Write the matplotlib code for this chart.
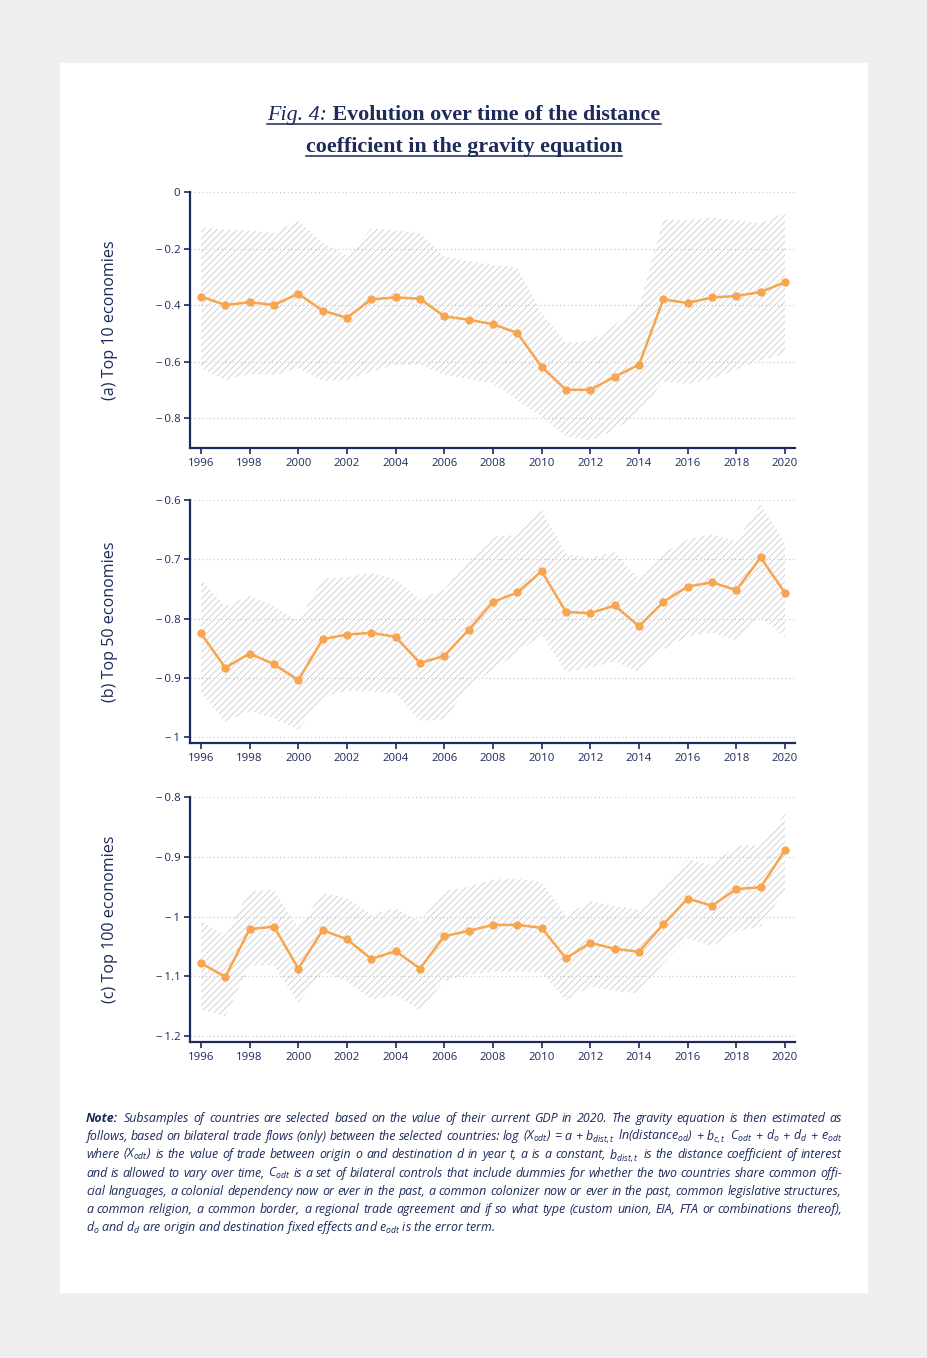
import matplotlib
matplotlib.use("Agg")
import matplotlib.pyplot as plt
from matplotlib import font_manager
from matplotlib.patches import Rectangle
from matplotlib.lines import Line2D

# %%
years = list(range(1996, 2021))

# (a) top 10 economies
coef_a = [-0.37, -0.40, -0.39, -0.40, -0.36, -0.42, -0.445, -0.38, -0.373, -0.378,
          -0.44, -0.452, -0.468, -0.499, -0.619, -0.70, -0.70, -0.654, -0.611,
          -0.38, -0.393, -0.373, -0.368, -0.354, -0.319]
upper_a = [-0.125, -0.134, -0.136, -0.144, -0.101, -0.18, -0.226, -0.129, -0.136, -0.145,
           -0.228, -0.245, -0.258, -0.267, -0.43, -0.533, -0.526, -0.47, -0.406,
           -0.097, -0.10, -0.09, -0.10, -0.111, -0.071]
lower_a = [-0.624, -0.665, -0.645, -0.647, -0.624, -0.669, -0.665, -0.636, -0.612, -0.612,
           -0.647, -0.663, -0.677, -0.736, -0.795, -0.866, -0.88, -0.842, -0.783,
           -0.671, -0.68, -0.66, -0.63, -0.595, -0.573]

# (b) top 50 economies
coef_b = [-0.825, -0.883, -0.859, -0.877, -0.904, -0.835, -0.827, -0.824, -0.831, -0.875,
          -0.863, -0.819, -0.772, -0.756, -0.72, -0.789, -0.791, -0.778, -0.813,
          -0.772, -0.746, -0.739, -0.752, -0.697, -0.757]
upper_b = [-0.734, -0.779, -0.762, -0.779, -0.805, -0.733, -0.73, -0.723, -0.734, -0.768,
           -0.751, -0.70, -0.662, -0.659, -0.617, -0.69, -0.698, -0.687, -0.734,
           -0.69, -0.666, -0.658, -0.67, -0.607, -0.673]
lower_b = [-0.925, -0.975, -0.956, -0.969, -0.987, -0.933, -0.922, -0.923, -0.926, -0.973,
           -0.97, -0.915, -0.886, -0.858, -0.827, -0.89, -0.883, -0.872, -0.891,
           -0.852, -0.83, -0.823, -0.838, -0.799, -0.83]

# (c) top 100 economies
coef_c = [-1.078, -1.101, -1.021, -1.017, -1.087, -1.023, -1.038, -1.071, -1.058, -1.087,
          -1.033, -1.024, -1.014, -1.014, -1.019, -1.07, -1.044, -1.054, -1.059,
          -1.013, -0.97, -0.982, -0.954, -0.951, -0.889]
upper_c = [-1.008, -1.031, -0.958, -0.955, -1.019, -0.961, -0.969, -0.997, -0.986, -1.008,
           -0.958, -0.95, -0.938, -0.937, -0.942, -0.999, -0.974, -0.982, -0.989,
           -0.947, -0.904, -0.914, -0.881, -0.881, -0.828]
lower_c = [-1.156, -1.167, -1.082, -1.082, -1.144, -1.092, -1.108, -1.139, -1.131, -1.157,
           -1.108, -1.097, -1.092, -1.092, -1.094, -1.14, -1.117, -1.125, -1.129,
           -1.078, -1.036, -1.05, -1.025, -1.017, -0.956]

panel_labels = ["(a) Top 10 economies", "(b) Top 50 economies", "(c) Top 100 economies"]
yticks_a = [0, -0.2, -0.4, -0.6, -0.8]
yticks_b = [-0.6, -0.7, -0.8, -0.9, -1]
yticks_c = [-0.8, -0.9, -1, -1.1, -1.2]
xticks = list(range(1996, 2021, 2))

note_lines = [
    "Subsamples of countries are selected based on the value of their current GDP in 2020. The gravity equation is then estimated as",
    "follows, based on bilateral trade flows (only) between the selected countries: log (X$_{odt}$) = a + b$_{dist,t}$ ln(distance$_{od}$) + b$_{c,t}$ C$_{odt}$ + d$_{o}$ + d$_{d}$ + e$_{odt}$",
    "where (X$_{odt}$) is the value of trade between origin o and destination d in year t, a is a constant, b$_{dist,t}$ is the distance coefficient of interest",
    "and is allowed to vary over time, C$_{odt}$ is a set of bilateral controls that include dummies for whether the two countries share common offi-",
    "cial languages, a colonial dependency now or ever in the past, a common colonizer now or ever in the past, common legislative structures,",
    "a common religion, a common border, a regional trade agreement and if so what type (custom union, EIA, FTA or combinations thereof),",
    "d$_{o}$ and d$_{d}$ are origin and destination fixed effects and e$_{odt}$ is the error term.",
]

# %%
navy = "#1c2a5c"
orange = "#f8a54f"
hatch_grey = "#d2d2d2"

names = {f.name for f in font_manager.fontManager.ttflist}
note_font = "Liberation Sans Narrow" if "Liberation Sans Narrow" in names else "Open Sans"
plt.rcParams["font.family"] = ["Open Sans", "DejaVu Sans"]
plt.rcParams["hatch.linewidth"] = 0.7
plt.rcParams["mathtext.fontset"] = "custom"
plt.rcParams["mathtext.it"] = note_font + ":italic"
plt.rcParams["mathtext.rm"] = note_font + ":italic"

W, H = 928, 1358
fig = plt.figure(figsize=(W / 100, H / 100), dpi=100)
fig.patch.set_facecolor("#efefef")
fig.patches.append(Rectangle((60 / W, 1 - 1293 / H), 808 / W, 1230 / H,
                             transform=fig.transFigure, facecolor="white",
                             edgecolor="none", zorder=-5))

panels = [
    (coef_a, upper_a, lower_a, yticks_a, (-0.906, 0.0), 192, 448),
    (coef_b, upper_b, lower_b, yticks_b, (-1.01, -0.6), 500, 743),
    (coef_c, upper_c, lower_c, yticks_c, (-1.21, -0.8), 797, 1042),
]


def fmt(v):
    if v == 0:
        return "0"
    s = f"{abs(v):g}"
    return "\u2212\u2009" + s


for (coef, up, lo, yt, ylim, top, bot), lab in zip(panels, panel_labels):
    ax = fig.add_axes([190 / W, 1 - bot / H, 605 / W, (bot - top) / H])
    ax.set_facecolor("none")
    ax.fill_between(years, lo, up, facecolor="none", edgecolor=hatch_grey,
                    hatch="/////", linewidth=0, zorder=1)
    ax.plot(years, coef, color=orange, lw=1.8, marker="o", markersize=5, zorder=3)
    ax.set_xlim(1995.55, 2020.41)
    ax.set_ylim(*ylim)
    ax.set_xticks(xticks)
    ax.set_yticks(yt)
    ax.set_yticklabels([fmt(v) for v in yt])
    ax.grid(axis="y", color="#c4c4c4", lw=0.8, linestyle=(0, (1, 2.5)))
    ax.set_axisbelow(True)
    for s in ["top", "right"]:
        ax.spines[s].set_visible(False)
    for s in ["left", "bottom"]:
        ax.spines[s].set_color(navy)
        ax.spines[s].set_linewidth(1.6)
    ax.tick_params(colors=navy, labelsize=8.2, length=4, width=1.2, pad=3)
    ax.set_ylabel(lab, fontsize=11.6, color=navy, labelpad=0)
    ax.yaxis.set_label_coords((118 - 190) / 605, 0.5)

# %% title with underline
renderer = fig.canvas.get_renderer()
tfont = ["Liberation Serif", "DejaVu Serif"]
tsize = 15.8


def width_px(t):
    return t.get_window_extent(renderer).width


def underline(x0, x1, y):
    fig.add_artist(Line2D([x0 / W, x1 / W], [1 - y / H, 1 - y / H], color=navy,
                          lw=1.1, transform=fig.transFigure))


t1 = fig.text(0, 1 - 120 / H, "Fig. 4:", fontsize=tsize, style="italic",
              family=tfont, color=navy, va="baseline")
t2 = fig.text(0, 1 - 120 / H, " Evolution over time of the distance", fontsize=tsize,
              weight="bold", family=tfont, color=navy, va="baseline")
w1, w2 = width_px(t1), width_px(t2)
x0 = 464 - (w1 + w2) / 2
t1.set_x(x0 / W)
t2.set_x((x0 + w1) / W)
underline(x0, x0 + w1 + w2, 124)

t3 = fig.text(464 / W, 1 - 152 / H, "coefficient in the gravity equation", fontsize=tsize,
              weight="bold", family=tfont, color=navy, va="baseline", ha="center")
w3 = width_px(t3)
underline(464 - w3 / 2, 464 + w3 / 2, 156)

# %% note, justified between x=86 and x=842
nsize = 8.95
note_kw = dict(fontsize=nsize, style="italic", family=note_font, color=navy,
               va="baseline")
n0 = fig.text(86 / W, 1 - 1122 / H, "Note:", fontsize=nsize, weight="bold",
              style="italic", family=note_font, color=navy, va="baseline")
wn = width_px(n0)
right = 842
for i, line in enumerate(note_lines):
    y = 1 - (1122 + 18.2 * i) / H
    xs = (86 + wn + 6) if i == 0 else 86
    if i == len(note_lines) - 1:
        fig.text(xs / W, y, line, **note_kw)
        continue
    words = [fig.text(0, y, w, **note_kw) for w in line.split(" ")]
    widths = [width_px(t) for t in words]
    gap = (right - xs - sum(widths)) / (len(words) - 1)
    x = xs
    for t, w in zip(words, widths):
        t.set_x(x / W)
        x += w + gap

fig.savefig("out.png", dpi=100, facecolor=fig.get_facecolor())
